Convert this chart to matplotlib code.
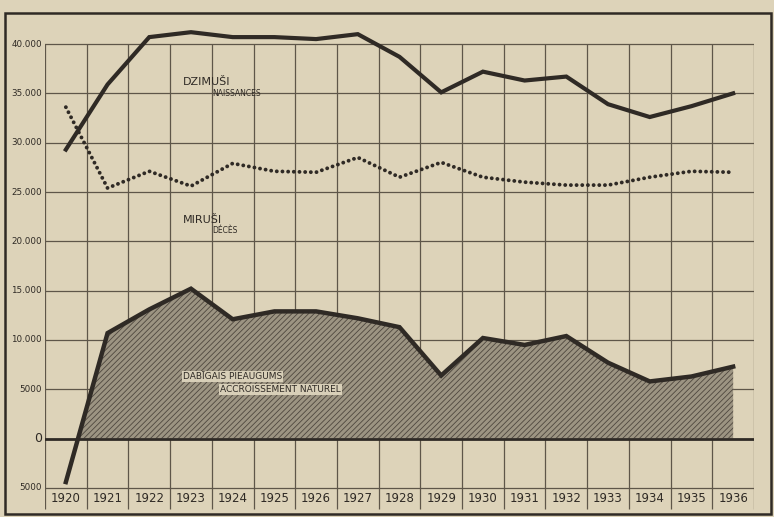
import matplotlib.pyplot as plt
from matplotlib.patches import Rectangle
import numpy as np

years = list(range(1920, 1937))
births = [29300, 35900, 40700, 41200, 40700, 40700, 40500, 41000, 38700,
          35100, 37200, 36300, 36700, 33900, 32600, 33700, 35000]
deaths = [33600, 25400, 27100, 25600, 27900, 27100, 27000, 28500, 26500,
          28000, 26500, 26000, 25700, 25700, 26500, 27100, 27000]
natural = [-4400, 10700, 13100, 15200, 12100, 12900, 12900, 12200, 11300,
           6400, 10200, 9500, 10400, 7700, 5800, 6300, 7300]
y_ticks = [40000, 35000, 30000, 25000, 20000, 15000, 10000, 5000, 0, -5000]
y_labels = ["40.000", "35.000", "30.000", "25.000", "20.000", "15.000",
            "10.000", "5000", "0", "5000"]

paper = "#ddd3b9"
ink = "#2f2a25"
grid = "#5e5649"

plt.rcParams['hatch.linewidth'] = 0.6
fig = plt.figure(figsize=(7.74, 5.17), dpi=100, facecolor=paper)
W, H = 774, 517
ax = fig.add_axes([45 / W, 3 / H, 709 / W, 501 / H])
ax.set_facecolor(paper)
ax.set_xlim(1919.5, 1936.5)
ax.set_ylim(-7637, 43144)
ax.axis('off')

# outer frame
fig.patches.append(Rectangle((5 / W, 3 / H), 766 / W, 501 / H, transform=fig.transFigure,
                             fill=False, edgecolor=ink, linewidth=1.8))

# grid
edges = np.arange(1919.5, 1937.5, 1)
ax.vlines(edges, -7100, 40000, color=grid, linewidth=0.9, zorder=1)
for v in y_ticks:
    if v != 0:
        ax.hlines(v, 1919.42, 1936.5, color=grid, linewidth=0.9, zorder=1)
ax.hlines(0, 1919.42, 1936.5, color=ink, linewidth=2.0, zorder=4)

for v, lab in zip(y_ticks, y_labels):
    ax.text(1919.43, v, lab, ha='right', va='center', fontsize=6.3 if v != 0 else 9,
            color=ink, family='DejaVu Sans')
for yr in years:
    ax.text(yr, -6050, str(yr), ha='center', va='center', fontsize=8.5, color=ink,
            family='DejaVu Sans')

# natural increase area
x = np.array(years, dtype=float)
n = np.array(natural, dtype=float)
ax.fill_between(x, 0, n, where=n > 0, interpolate=True, facecolor="#9c9482",
                hatch="//////", edgecolor="#4e473e", linewidth=0, zorder=2)
ax.plot(years, natural, color=ink, linewidth=3.2, solid_joinstyle='miter', zorder=5)

ax.plot(years, births, color=ink, linewidth=3.0, solid_joinstyle='miter', zorder=5)
ax.plot(years, deaths, color=ink, linewidth=2.8, linestyle=(0, (0.01, 1.45)),
        dash_capstyle='round', zorder=5)

# labels
ax.text(1922.8, 36200, "DZIMUŠI", fontsize=8, color=ink, va='center')
ax.text(1923.5, 35000, "NAISSANCES", fontsize=5.5, color=ink, va='center')
ax.text(1922.8, 22200, "MIRUŠI", fontsize=8, color=ink, va='center')
ax.text(1923.5, 21100, "DÉCÈS", fontsize=5.5, color=ink, va='center')
box = dict(facecolor="#d8cfb8", edgecolor='none', pad=0.6)
ax.text(1922.8, 6300, "DABĪGAIS PIEAUGUMS", fontsize=6.5, color=ink, va='center',
        bbox=box, zorder=6)
ax.text(1923.7, 5000, "ACCROISSEMENT NATUREL", fontsize=6.5, color=ink, va='center',
        bbox=box, zorder=6)

fig.savefig("out.png", dpi=100, facecolor=paper)
